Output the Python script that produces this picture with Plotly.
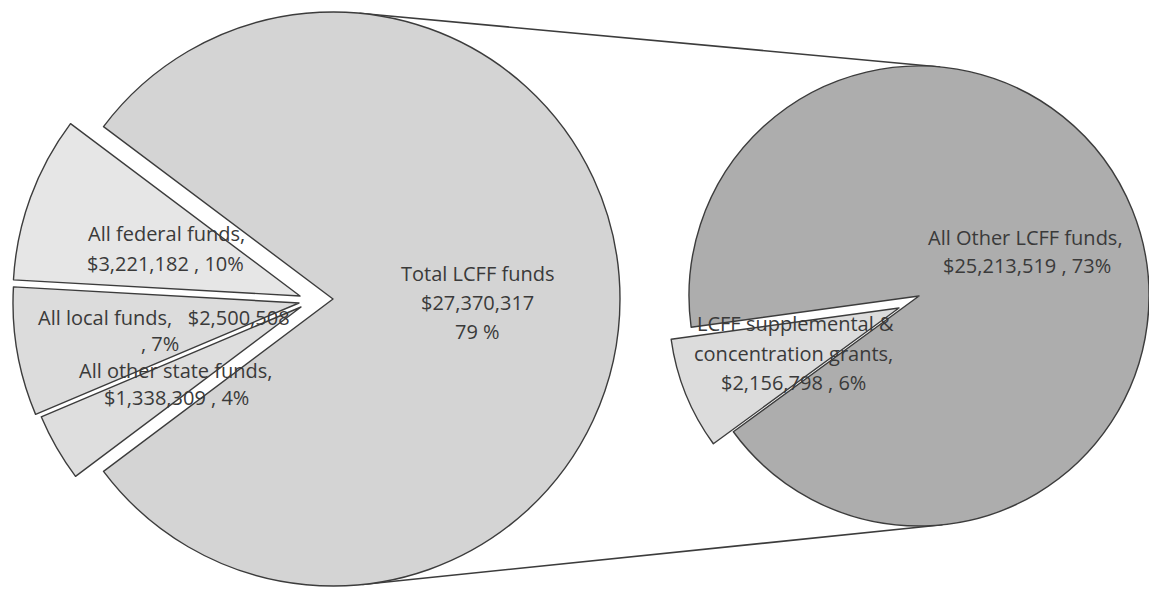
import numpy as np
import plotly.graph_objects as go

# ---- data -------------------------------------------------------------
# Left pie: all funds (clockwise order starting at the lower-left)
left_labels = ["All other state funds", "All local funds", "All federal funds", "Total LCFF funds"]
left_values = [1338309, 2500508, 3221182, 27370317]
left_pct = ["4%", "7%", "10%", "79 %"]

# Right pie: breakdown of the LCFF funds
right_labels = ["LCFF supplemental & concentration grants", "All Other LCFF funds"]
right_values = [2156798, 25213519]
right_pct = ["6%", "73%"]

# ---- canvas / geometry -----------------------------------------------
W, H = 1149, 589
L_CX, L_CY, L_R = 333, 299, 287
R_CX, R_CY, R_R = 919, 296, 230

# pixel offsets of the exploded slices (dx, dy)
left_offsets = {0: (-32, 8), 1: (-34, 4), 2: (-33, -3)}
right_offsets = {0: (-20, 12)}

left_colors = ["#dedede", "#dcdcdc", "#e6e6e6", "#d4d4d4"]
right_colors = ["#dcdcdc", "#adadad"]
EDGE = "#3c3c3c"
TEXT = "#3a3a3a"
FONT = "Open Sans"


def domain(cx, cy, r):
    # keep the square box inside the paper, shrinking the radius if needed
    r = min(r, cx, W - cx, cy, H - cy)
    return dict(x=[(cx - r) / W, (cx + r) / W],
                y=[(H - cy - r) / H, (H - cy + r) / H])


def slice_trace(labels, values, idx, colors, rotation, cx, cy, r):
    n = len(values)
    fill = [colors[i] if i == idx else "rgba(0,0,0,0)" for i in range(n)]
    widths = [1.4 if i == idx else 0 for i in range(n)]
    return go.Pie(
        labels=labels, values=values, sort=False, direction="clockwise",
        rotation=rotation, domain=domain(cx, cy, r),
        marker=dict(colors=fill, line=dict(color=EDGE, width=widths)),
        textinfo="none", hoverinfo="label+value", showlegend=False,
    )


fig = go.Figure()

# left pie: small slices grouped around 9 o'clock
lt = float(np.sum(left_values))
small_deg = 360.0 * sum(left_values[:3]) / lt
left_rot = (270.0 - small_deg / 2.0) - 360.0
for i in range(len(left_values)):
    dx, dy = left_offsets.get(i, (0, 0))
    fig.add_trace(slice_trace(left_labels, left_values, i, left_colors, left_rot,
                              L_CX + dx, L_CY + dy, L_R))

# right pie: supplemental slice centred a little below 9 o'clock
rt = float(np.sum(right_values))
supp_deg = 360.0 * right_values[0] / rt
right_rot = (248.0 - supp_deg / 2.0) - 360.0
for i in range(len(right_values)):
    dx, dy = right_offsets.get(i, (0, 0))
    fig.add_trace(slice_trace(right_labels, right_values, i, right_colors, right_rot,
                              R_CX + dx, R_CY + dy, R_R))

# ---- connector lines: outer common tangents of the two pies -----------
c1 = np.array([L_CX, L_CY], float)
c2 = np.array([R_CX, R_CY], float)
d = np.linalg.norm(c2 - c1)
u = (c2 - c1) / d
alpha = np.arccos((L_R - R_R) / d)
shapes = []
for sgn in (-1, 1):
    a = sgn * alpha
    nrm = np.array([u[0] * np.cos(a) - u[1] * np.sin(a),
                    u[0] * np.sin(a) + u[1] * np.cos(a)])
    p1 = c1 + L_R * nrm
    p2 = c2 + R_R * nrm
    shapes.append(dict(type="line", xref="paper", yref="paper", layer="below",
                       x0=p1[0] / W, y0=1 - p1[1] / H, x1=p2[0] / W, y1=1 - p2[1] / H,
                       line=dict(color=EDGE, width=1.6)))


def money(v):
    return "${:,}".format(v)


# ---- data labels --------------------------------------------------------
label_lines = [
    # (text, x px, y px)
    ("All federal funds,", 166, 234),
    (f"{money(left_values[2])} , {left_pct[2]}", 165, 263),
    (f"All local funds,   {money(left_values[1])}", 164, 317),
    (f", {left_pct[1]}", 160, 343),
    ("All other state funds,", 176, 370),
    (f"{money(left_values[0])} , {left_pct[0]}", 176, 397),
    ("Total LCFF funds", 477, 273),
    (money(left_values[3]), 477, 302),
    (left_pct[3], 477, 331),
    ("All Other LCFF funds,", 1025, 237),
    (f"{money(right_values[1])} , {right_pct[1]}", 1027, 265),
    ("LCFF supplemental &", 795, 323),
    ("concentration grants,", 793, 353),
    (f"{money(right_values[0])} , {right_pct[0]}", 793, 382),
]
annotations = [
    dict(text=t, x=x / W, y=1 - y / H, xref="paper", yref="paper",
         xanchor="center", yanchor="middle", showarrow=False,
         font=dict(family=FONT, size=20, color=TEXT))
    for t, x, y in label_lines
]

fig.update_layout(
    width=W, height=H,
    margin=dict(l=0, r=0, t=0, b=0),
    paper_bgcolor="white", plot_bgcolor="white",
    shapes=shapes, annotations=annotations,
    showlegend=False,
)

fig.write_html("out.html")
